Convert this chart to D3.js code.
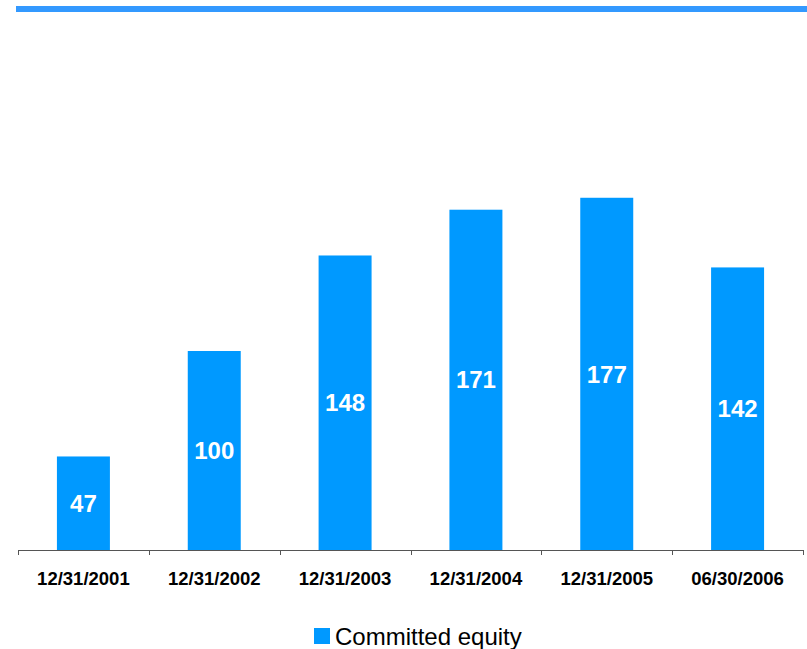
<!DOCTYPE html>
<html>
<head>
<meta charset="utf-8">
<script src="https://cdn.jsdelivr.net/npm/d3@7"></script>
<style>
  body { margin: 0; background: #fff; }
  svg { display: block; font-family: "Liberation Sans", Arial, sans-serif; }
</style>
</head>
<body>
<svg width="807" height="649"></svg>
<script>
var width = 807;
var height = 649;

// data
var dates = ["12/31/2001", "12/31/2002", "12/31/2003", "12/31/2004", "12/31/2005", "06/30/2006"];
var equity = [47, 100, 148, 171, 177, 142];
var seriesName = "Committed equity";

var barColor = "#0099ff";

let svg = d3.select("svg");

// header rule
svg.append("rect")
  .attr("x", 16).attr("y", 6)
  .attr("width", width - 16).attr("height", 6)
  .attr("fill", "#3399ff");

var x = d3.scaleBand()
  .domain(dates)
  .range([18, 803])
  .paddingInner(0.595)
  .paddingOuter(0.2975);

var y = d3.scaleLinear()
  .domain([0, 200])
  .range([550, 152]);

// bars
svg.append("g")
  .selectAll("rect")
  .data(dates)
  .enter()
  .append("rect")
  .attr("x", d => x(d))
  .attr("y", (d, i) => y(equity[i]))
  .attr("width", x.bandwidth())
  .attr("height", (d, i) => y(0) - y(equity[i]))
  .attr("fill", barColor);

// value labels in the middle of each bar
svg.append("g")
  .selectAll("text")
  .data(dates)
  .enter()
  .append("text")
  .attr("x", d => x(d) + x.bandwidth() / 2)
  .attr("y", (d, i) => (y(equity[i]) + y(0)) / 2)
  .attr("dy", "0.36em")
  .attr("text-anchor", "middle")
  .attr("fill", "#fff")
  .attr("font-weight", "bold")
  .attr("font-size", "24px")
  .text((d, i) => equity[i]);

// x axis: baseline with ticks between categories
var axisG = svg.append("g");
axisG.append("line")
  .attr("x1", 18).attr("x2", 803)
  .attr("y1", y(0) + 0.5).attr("y2", y(0) + 0.5)
  .attr("stroke", "#555").attr("stroke-width", 1);

var tickPos = d3.range(dates.length + 1).map(i => 18 + i * (785 / dates.length));
axisG.selectAll("line.tick")
  .data(tickPos)
  .enter()
  .append("line")
  .attr("class", "tick")
  .attr("x1", d => Math.round(d) + 0.5).attr("x2", d => Math.round(d) + 0.5)
  .attr("y1", y(0)).attr("y2", y(0) + 5)
  .attr("stroke", "#555");

axisG.selectAll("text")
  .data(dates)
  .enter()
  .append("text")
  .attr("x", d => x(d) + x.bandwidth() / 2)
  .attr("y", 585)
  .attr("text-anchor", "middle")
  .attr("font-weight", "bold")
  .attr("font-size", "18.5px")
  .attr("fill", "#000")
  .text(d => d);

// legend
var legend = svg.append("g");
legend.append("rect")
  .attr("x", 314).attr("y", 628)
  .attr("width", 16).attr("height", 16)
  .attr("fill", barColor);
legend.append("text")
  .attr("x", 335).attr("y", 645)
  .attr("font-size", "24px")
  .attr("fill", "#000")
  .text(seriesName);
</script>
</body>
</html>
